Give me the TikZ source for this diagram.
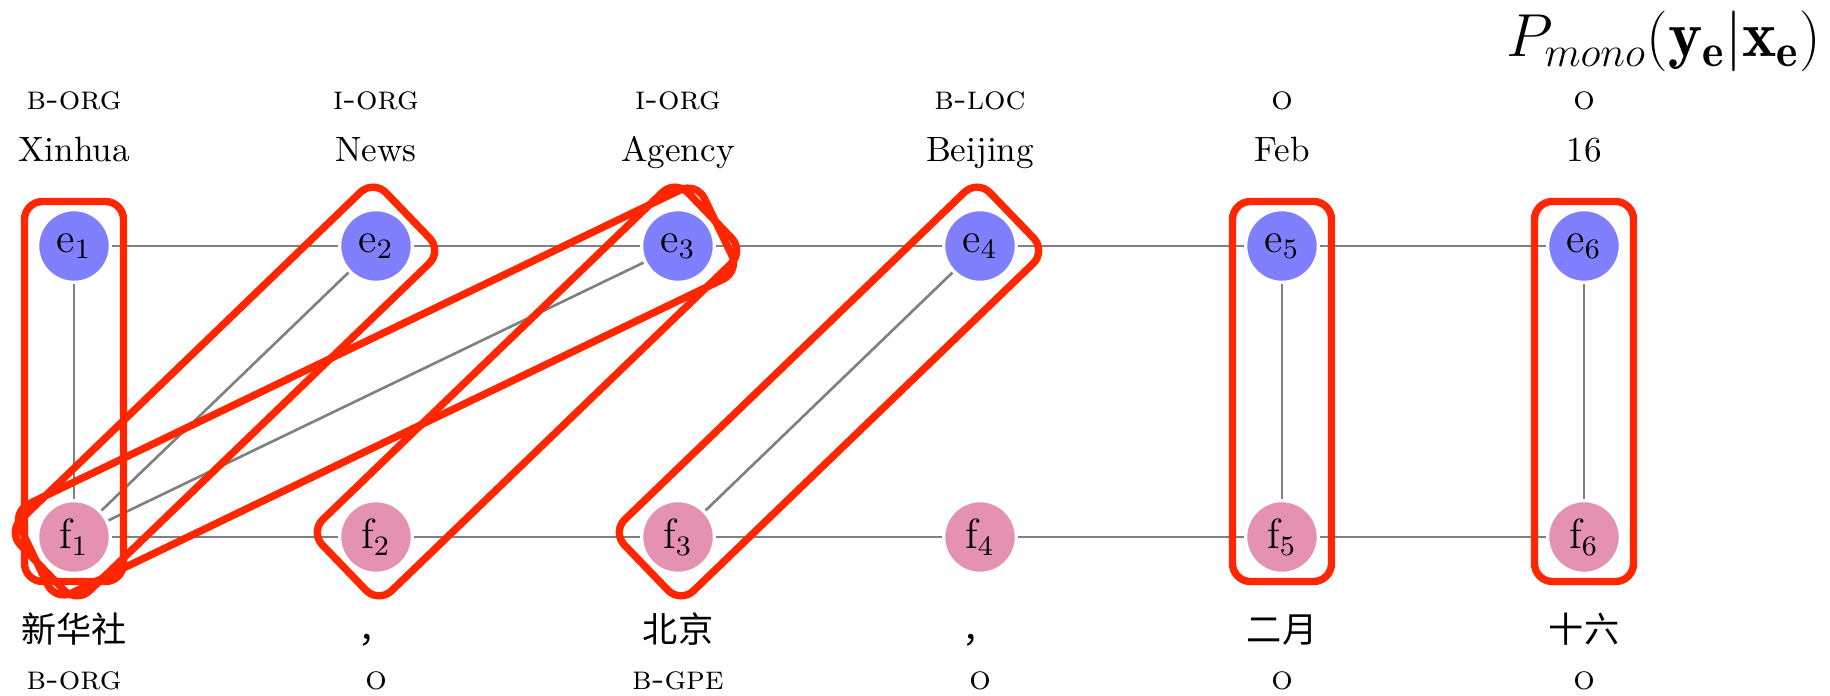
\documentclass[tikz,border=0pt]{standalone}
\usepackage{fontspec}
\newfontfamily\cjk{Noto Sans CJK SC}
\usepackage{tikz}
\usetikzlibrary{calc}

\definecolor{ecol}{RGB}{128,128,255}
\definecolor{fcol}{RGB}{228,145,178}
\definecolor{boxred}{RGB}{255,38,0}

\begin{document}
\begin{tikzpicture}[node distance=3.02cm]
  \tikzstyle{word}=[circle,draw=white,line width=1pt,minimum size=7.3mm,
                    inner sep=0pt,font=\large]
  \tikzstyle{en}=[word,fill=ecol]
  \tikzstyle{zh}=[word,fill=fcol]
  \tikzstyle{tok}=[anchor=base,inner sep=0pt]
  \tikzstyle{tag}=[tok,font=\fontsize{9.6}{11}\selectfont\scshape]
  \tikzstyle{link}=[draw=gray,line width=0.75pt]
  \tikzstyle{alignbox}=[rectangle,draw=boxred,line width=2.1pt,
                        rounded corners=1.8mm,minimum height=9.9mm]

  \useasboundingbox (0,0) rectangle (18.3,6.95);

  % english side
  \node[en] (e1) at (0.74,4.49) {e$_1$};
  \node[en] (e2) [right of=e1] {e$_2$};
  \node[en] (e3) [right of=e2] {e$_3$};
  \node[en] (e4) [right of=e3] {e$_4$};
  \node[en] (e5) [right of=e4] {e$_5$};
  \node[en] (e6) [right of=e5] {e$_6$};

  % chinese side
  \node[zh] (f1) at (0.74,1.58) {f$_1$};
  \node[zh] (f2) [right of=f1] {f$_2$};
  \node[zh] (f3) [right of=f2] {f$_3$};
  \node[zh] (f4) [right of=f3] {f$_4$};
  \node[zh] (f5) [right of=f4] {f$_5$};
  \node[zh] (f6) [right of=f5] {f$_6$};

  % words and tags
  \foreach \i/\w/\t in {1/Xinhua/b-org, 2/News/i-org, 3/Agency/i-org,
                        4/Beijing/b-loc, 5/Feb/o, 6/16/o} {
    \node[tok] (we\i) at (e\i |- 0,5.33) {\w};
    \node[tag] (te\i) at (e\i |- 0,5.85) {\t};
  }
  \foreach \i/\w/\t in {1/新华社/b-org, 2/，/o, 3/北京/b-gpe,
                        4/，/o, 5/二月/o, 6/十六/o} {
    \node[tok,font=\cjk] (wf\i) at (f\i |- 0,0.53) {\w};
    \node[tag] (tf\i) at (f\i |- 0,0.06) {\t};
  }

  \node[anchor=base east,inner sep=0pt,font=\fontsize{18.5}{22}\selectfont]
    (pmono) at (18.22,6.38) {$P_{mono}(\mathbf{y_e}|\mathbf{x_e})$};

  % chains and alignment links
  \foreach \a/\b in {e1/e2,e2/e3,e3/e4,e4/e5,e5/e6,
                     f1/f2,f2/f3,f3/f4,f4/f5,f5/f6,
                     e1/f1,e2/f1,e3/f1,e4/f3,e5/f5,e6/f6}
    \draw[link] (\a) -- (\b);

  % boxes round the aligned pairs
  \foreach \a/\b in {f1/e1,f1/e2,f1/e3,f2/e3,f3/e4,f5/e5,f6/e6}
    \path let \p1=($(\b)-(\a)$), \n1={atan2(\y1,\x1)}, \n2={veclen(\x1,\y1)} in
      node[alignbox,rotate=\n1,minimum width=\n2+0.89cm] (box-\a-\b)
        at ($(\a)!0.5!(\b)$) {};
\end{tikzpicture}
\end{document}
